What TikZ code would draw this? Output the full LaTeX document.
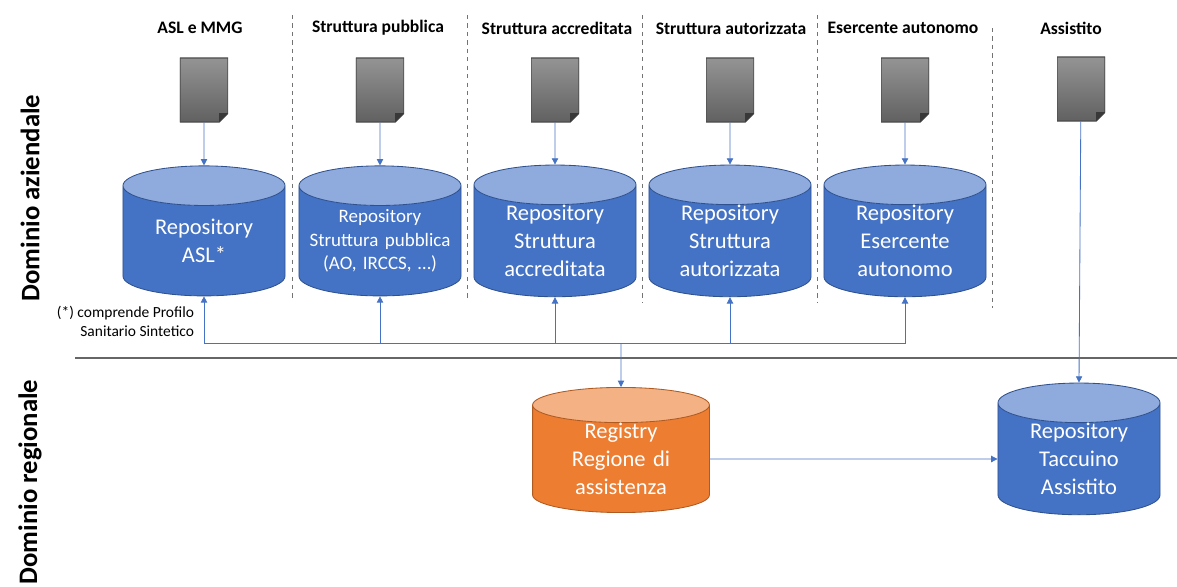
\documentclass[tikz,border=0pt]{standalone}
\usepackage{fontspec}
\setmainfont{Carlito}
\usetikzlibrary{shapes.geometric,arrows.meta}

\definecolor{repoblue}{HTML}{4472C4}
\definecolor{repotop}{HTML}{8FAADC}
\definecolor{repoedge}{HTML}{2F528F}
\definecolor{regorange}{HTML}{ED7D31}
\definecolor{regtop}{HTML}{F4B183}
\definecolor{regedge}{HTML}{AE5A21}

\tikzset{
    repo/.style = {cylinder, shape border rotate = 90, aspect = 0.275, draw = repoedge, line width = 0.6pt,
        cylinder uses custom fill, cylinder body fill = repoblue, cylinder end fill = repotop,
        minimum width = 4.05cm, minimum height = 3.25cm, inner sep = 0pt, text width = 3.6cm,
        text = white, align = center, font = \fontsize{16}{20}\selectfont},
    reg/.style = {repo, aspect = 0.22, draw = regedge, cylinder body fill = regorange, cylinder end fill = regtop},
    doc/.style = {minimum width = 1.2cm, minimum height = 1.6cm, inner sep = 0pt,
        path picture = {
            \shade[top color = black!42, bottom color = black!62, draw = black!70, line width = 0.8pt]
                (path picture bounding box.north west) -- (path picture bounding box.north east)
                -- ([yshift = 0.22cm]path picture bounding box.south east)
                -- ([xshift = -0.22cm]path picture bounding box.south east)
                -- (path picture bounding box.south west) -- cycle;
            \fill[black!78] ([yshift = 0.22cm]path picture bounding box.south east)
                -- ([xshift = -0.22cm, yshift = 0.22cm]path picture bounding box.south east)
                -- ([xshift = -0.22cm]path picture bounding box.south east) -- cycle;
        }},
    head/.style = {font = \bfseries\fontsize{12.5}{15}\selectfont},
    link/.style = {draw = repoblue, line width = 0.6pt, -{Triangle[width = 4.5pt, length = 4.5pt]}},
    side/.style = {rotate = 90, font = \bfseries\fontsize{19}{22}\selectfont}
}

\begin{document}
\begin{tikzpicture}[x = 0.025cm, y = -0.025cm]
    \useasboundingbox (0,0) rectangle (1177,586);

    % colonne
    \foreach \x/\t/\b in {292/15/300, 467/15/300, 642/15/303, 817/15/303, 992/28/308}
        \draw[dashed, black!55, line width = 0.6pt] (\x,\t) -- (\x,\b);
    \draw[black!60, line width = 0.9pt] (75,358) -- (1177,358);

    \node[side] (daz) at (30,198) {Dominio aziendale};
    \node[side] (dreg) at (30,482) {Dominio regionale};

    \node[head] (h1) at (200,28) {ASL e MMG};
    \node[head] (h2) at (378,28) {Struttura pubblica};
    \node[head] (h3) at (557,28) {Struttura accreditata};
    \node[head] (h4) at (731,28) {Struttura autorizzata};
    \node[head] (h5) at (903,28) {Esercente autonomo};
    \node[head] (h6) at (1071,28) {Assistito};

    % documenti
    \node[doc] (d1) at (204,90) {};
    \node[doc] (d2) at (380,90) {};
    \node[doc] (d3) at (555,90) {};
    \node[doc] (d4) at (730,90) {};
    \node[doc] (d5) at (905,90) {};
    \node[doc] (d6) at (1081,89) {};

    % repository aziendali
    \node[repo] (asl) at (204,241) {Repository\\ASL*};
    \node[repo, font = \fontsize{13.5}{16.7}\selectfont] (pub) at (380,241) {Repository\\Struttura pubblica\\(AO, IRCCS, \dots)};
    \node[repo] (acc) at (555,241) {Repository\\Struttura\\accreditata};
    \node[repo] (aut) at (730,241) {Repository\\Struttura\\autorizzata};
    \node[repo] (ese) at (905,241) {Repository\\Esercente\\autonomo};

    \node[align = right, anchor = east, font = \fontsize{11}{13.5}\selectfont] (nota) at (199,321) {(*) comprende Profilo\\Sanitario Sintetico};

    % dominio regionale
    \node[reg, minimum width = 4.42cm, minimum height = 3cm, text width = 4cm] (rga) at (621,459) {Registry\\Regione di\\assistenza};
    \node[repo, minimum height = 3cm] (tac) at (1079,459) {Repository\\Taccuino\\Assistito};

    \coordinate (bus) at (621,343);

    \draw[link] (d1) -- (asl.north);
    \draw[link] (d2) -- (pub.north);
    \draw[link] (d3) -- (acc.north);
    \draw[link] (d4) -- (aut.north);
    \draw[link] (d5) -- (ese.north);
    \draw[link] (d6) -- (tac.north);

    \foreach \r in {asl, pub, acc, aut, ese}
        \draw[link] (bus) -| (\r.south);
    \draw[link] (bus) -- (rga.north);
    \draw[link] (rga.east) -- (tac.west);
\end{tikzpicture}
\end{document}
